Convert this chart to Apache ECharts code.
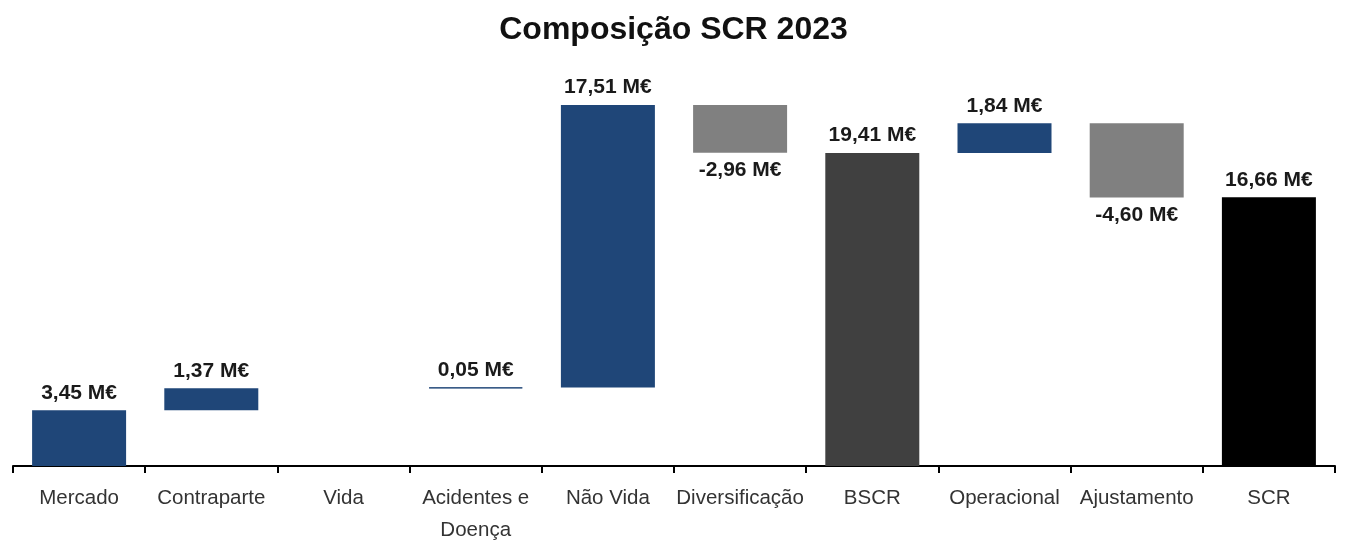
<!DOCTYPE html>
<html>
<head>
<meta charset="utf-8">
<script src="https://cdn.jsdelivr.net/npm/echarts@6/dist/echarts.min.js"></script>
<style>html,body{margin:0;padding:0;background:#fff;}#c{width:1347px;height:546px;}</style>
</head>
<body>
<div id="c"></div>
<script>
const categories = ['Mercado', 'Contraparte', 'Vida', 'Acidentes e\nDoença', 'Não Vida', 'Diversificação', 'BSCR', 'Operacional', 'Ajustamento', 'SCR'];
const values = [3.45, 1.37, 0, 0.05, 17.51, -2.96, 19.41, 1.84, -4.60, 16.66];
const kinds = ['delta', 'delta', 'delta', 'delta', 'delta', 'delta', 'total', 'delta', 'delta', 'total'];
const colors = ['#1F4678', '#1F4678', '#1F4678', '#1F4678', '#1F4678', '#808080', '#404040', '#1F4678', '#808080', '#000000'];

const FONT = '"Liberation Sans Narrow", "Liberation Sans", Arial, sans-serif';
const base = [];
const visible = [];
let running = 0;
values.forEach((v, i) => {
  if (kinds[i] === 'total') {
    base.push(0);
    running = v;
    visible.push({ value: v, raw: v, itemStyle: { color: colors[i] } });
    return;
  }
  if (v === 0) {
    base.push(0);
    visible.push('-');
    return;
  }
  if (v >= 0) {
    base.push(running);
    running += v;
  } else {
    running += v;
    base.push(running);
  }
  visible.push({
    value: Math.abs(v), raw: v,
    itemStyle: { color: colors[i], borderColor: colors[i], borderWidth: Math.abs(v) < 0.2 ? 1 : 0 },
    label: { position: v < 0 ? 'bottom' : 'top' }
  });
});

const fmt = v => v.toFixed(2).replace('.', ',') + ' M€';

const chart = echarts.init(document.getElementById('c'));
chart.setOption({
  animation: false,
  title: {
    text: 'Composição SCR 2023',
    left: 'center',
    top: 9,
    textStyle: { fontFamily: FONT, fontSize: 32, fontWeight: 'bold', color: '#111' }
  },
  grid: { left: 13, right: 12, top: 79, bottom: 80 },
  xAxis: {
    type: 'category',
    data: categories,
    axisLine: { show: true, lineStyle: { color: '#000', width: 2 } },
    axisTick: { show: true, length: 7, interval: 0, lineStyle: { color: '#000', width: 2 } },
    axisLabel: {
      fontFamily: FONT, fontSize: 20.5, color: '#333', lineHeight: 32, margin: 16, interval: 0
    }
  },
  yAxis: { type: 'value', min: 0, max: 24, show: false, splitLine: { show: false } },
  series: [
    {
      type: 'bar', stack: 'w', data: base, barWidth: 94,
      itemStyle: { color: 'transparent' }, silent: true
    },
    {
      type: 'bar', stack: 'w', data: visible, barWidth: 94,
      label: {
        show: true, position: 'top', distance: 7,
        fontFamily: FONT, fontSize: 21, fontWeight: 'bold', color: '#1a1a1a',
        formatter: p => fmt(p.data.raw)
      }
    }
  ]
});
</script>
</body>
</html>
